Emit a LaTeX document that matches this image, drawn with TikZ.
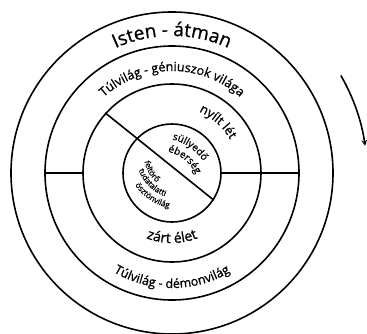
\documentclass[tikz,border=0pt]{standalone}
\usepackage{fontspec}
\setmainfont{Open Sans}[FakeBold=0.9]
\usepackage{tikz}
\usetikzlibrary{arrows, decorations.text}
\tikzstyle{ring} = [circle, draw=black, line width=1.6pt, inner sep=0pt]
\tikzstyle{divider} = [line width=1.6pt]
\tikzstyle{arrow} = [line width=1.6pt,->,>=stealth]
\tikzstyle{curved} = [postaction={decorate}]
\newcommand\outerfont{\fontsize{19}{19}\selectfont}
\newcommand\bandfont{\fontsize{12.5}{12.5}\selectfont}
\newcommand\lifefont{\fontsize{14}{14}\selectfont}
\newcommand\corefont{\fontsize{10}{10}\selectfont}
\newcommand\tinyfont{\fontsize{8}{8}\selectfont}

\begin{document}
\begin{tikzpicture}[x=1pt, y=1pt]
    \useasboundingbox (-172,-160) rectangle (195,173);
        % rings
        \node (outer) [ring, minimum size=322pt] at (0,0) {};
        \node (second) [ring, minimum size=254pt] at (0,0) {};
        \node (third) [ring, minimum size=178pt] at (0,0) {};
        \node (core) [ring, minimum size=98pt] at (0,0) {};
        \coordinate (turnstart) at (30:195);

        \draw [divider] (second.west) -- (third.west);
        \draw [divider] (core.east) -- (second.east);
        \draw [divider] (third.138) -- (core.-33);
        \draw [arrow] (turnstart) arc[start angle=30, end angle=8, radius=195pt];

        % texts along the rings
        \path [curved, decoration={text along path, text align=center, text={|\outerfont|Isten - átman}}]
            (160:137) arc[start angle=160, end angle=20, radius=137pt];
        \path [curved, decoration={text along path, text align=center, text={|\bandfont|Túlvilág - géniuszok világa}}]
            (170:102) arc[start angle=170, end angle=10, radius=102pt];
        \path [curved, decoration={text along path, text align=center, text={|\bandfont|Túlvilág - démonvilág}}]
            (190:115) arc[start angle=190, end angle=350, radius=115pt];
        \path [curved, decoration={text along path, text align=center, text={|\bandfont|nyílt lét}}]
            (110:67) arc[start angle=110, end angle=-14, radius=67pt];
        \path [curved, decoration={text along path, text align=center, text={|\lifefont|zárt élet}}]
            (210:70) arc[start angle=210, end angle=330, radius=70pt];

        % texts in the core
        \begin{scope}[shift={(-12,-17)}]
            \path [curved, decoration={text along path, text align=center, text={|\corefont|süllyedő}}]
                (120:52) arc[start angle=120, end angle=-10, radius=52pt];
            \path [curved, decoration={text along path, text align=center, text={|\corefont|éberség}}]
                (116:39) arc[start angle=116, end angle=-14, radius=39pt];
        \end{scope}
        \begin{scope}[shift={(8,18)}]
            \path [curved, decoration={text along path, text align=center, text={|\tinyfont|feltörő}}]
                (150:36) arc[start angle=150, end angle=270, radius=36pt];
            \path [curved, decoration={text along path, text align=center, text={|\tinyfont|tudatalatti}}]
                (165:44) arc[start angle=165, end angle=285, radius=44pt];
            \path [curved, decoration={text along path, text align=center, text={|\tinyfont|ösztönvilág}}]
                (176:54) arc[start angle=176, end angle=296, radius=54pt];
        \end{scope}
    \end{tikzpicture}
\end{document}
